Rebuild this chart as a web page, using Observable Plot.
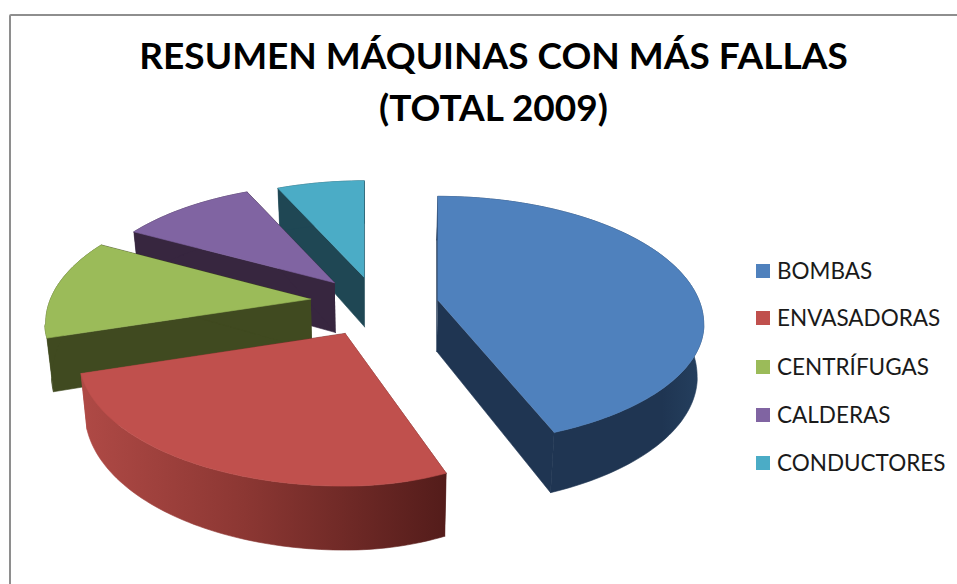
<!DOCTYPE html>
<html><head><meta charset="utf-8">
<script src="https://cdn.jsdelivr.net/npm/d3@7"></script>
<script src="https://cdn.jsdelivr.net/npm/@observablehq/plot@0.6"></script>
<style>
html,body{margin:0;padding:0;background:#fff;overflow:hidden}
#wrap{position:relative;width:957px;height:584px;font-family:Lato,sans-serif;color:#000}
#frame{position:absolute;left:9px;top:14px;width:960px;height:600px;border:2px solid #8e8e8e;box-sizing:border-box;border-radius:2px}
#title{position:absolute;left:0;top:29px;width:987px;text-align:center;font-weight:700;font-size:37px;line-height:52px}
.lg{position:absolute;left:777px;font-size:22.5px;line-height:24px;color:#1a1a1a;white-space:nowrap}
.sw{position:absolute;left:756px;width:14px;height:14px}
svg{position:absolute;left:0;top:0}
</style></head><body>
<div id="wrap"><div id="frame"></div>
<div id="title">RESUMEN MÁQUINAS CON MÁS FALLAS<br>(TOTAL 2009)</div>
<div id="chart"></div><div id="legend"></div></div>
<script>
const categories=["BOMBAS","ENVASADORAS","CENTRÍFUGAS","CALDERAS","CONDUCTORES"];
const values=[42.8,30.2,12.5,8.9,5.6];
const topColors=["#4f81bd","#c0504d","#9bbb59","#8064a2","#4bacc6"];
const sideColors=["url(#sideBlue)","url(#sideRed)","#404a20","#37263f","#1f4754"];
const legendY=[271,318,367,415,463];
const drawOrder=[4,3,2,0,1];

const total=d3.sum(values);
const cum=d3.cumsum(values);
const cx=375,cy=306.5,ex=64,ey=30,Rx=266,Ry=128,shift=24;
const slices=values.map((val,i)=>{
  const a0=(cum[i]-val)/total*2*Math.PI,a1=cum[i]/total*2*Math.PI,m=(a0+a1)/2;
  const ax=cx+ex*Math.sin(m)-(i===2||i===3?3:0),ay=cy-ey*Math.cos(m);
  const backF=Math.min(1,1+0.0025*(ay-300)),frontF=0.94+0.002*(ay-300);
  const rightF=i===1?0.87:1;
  const n=Math.max(8,Math.round((a1-a0)*40));
  const arc=d3.range(n+1).map(k=>{
    const t=a0+(a1-a0)*k/n;
    const u=Math.sin(t),v=-Math.cos(t);
    return {x:ax+Rx*u*(u>0?rightF:1)*(v<0?backF:1),y:ay+shift+Ry*v*(v<0?backF:frontF)};
  });
  return {i,apex:{x:ax,y:ay},arc};
});
const depth=y=>44+0.07*(y-200);
const down=p=>({x:p.x+(375-p.x)*0.02,y:p.y+depth(p.y)});
const pm=(pts,fill)=>Plot.line(pts,{x:"x",y:"y",fill,stroke:fill,strokeWidth:0.6,curve:"linear"});
const marks=[()=>{
  const ns="http://www.w3.org/2000/svg";
  const defs=document.createElementNS(ns,"defs");
  const grad=(id,x1,x2,stops)=>{
    const g=document.createElementNS(ns,"linearGradient");
    g.setAttribute("id",id);g.setAttribute("gradientUnits","userSpaceOnUse");
    g.setAttribute("x1",x1);g.setAttribute("x2",x2);g.setAttribute("y1",0);g.setAttribute("y2",0);
    stops.forEach(([o,c])=>{const s=document.createElementNS(ns,"stop");s.setAttribute("offset",o);s.setAttribute("stop-color",c);g.appendChild(s);});
    defs.appendChild(g);
  };
  grad("sideRed",77,447,[[0,"#b04a46"],[0.45,"#8c3733"],[1,"#531c1a"]]);
  grad("sideBlue",430,702,[[0,"#1f3552"],[0.85,"#1f3552"],[1,"#25405f"]]);
  const g=document.createElementNS(ns,"g");g.appendChild(defs);return g;
}];
for(const i of drawOrder){
  const s=slices[i],side=sideColors[i],{apex,arc}=s;
  const first=arc[0],last=arc[arc.length-1];
  marks.push(pm([apex,first,down(first),down(apex)],side));
  marks.push(pm([apex,last,down(last),down(apex)],side));
  marks.push(pm([...arc,...arc.map(down).reverse()],side));
  marks.push(pm([apex,...arc],topColors[i]));
}
const plot=Plot.plot({width:957,height:584,margin:0,
  x:{domain:[0,957],range:[0,957],axis:null},
  y:{domain:[0,584],range:[0,584],axis:null},
  style:{background:"transparent"},marks});
document.getElementById("chart").append(plot);
const lg=document.getElementById("legend");
categories.forEach((c,i)=>{
  const sw=document.createElement("div");sw.className="sw";sw.style.top=(legendY[i]-7)+"px";sw.style.background=topColors[i];lg.append(sw);
  const t=document.createElement("div");t.className="lg";t.textContent=c;t.style.top=(legendY[i]-12)+"px";lg.append(t);
});
</script></body></html>
